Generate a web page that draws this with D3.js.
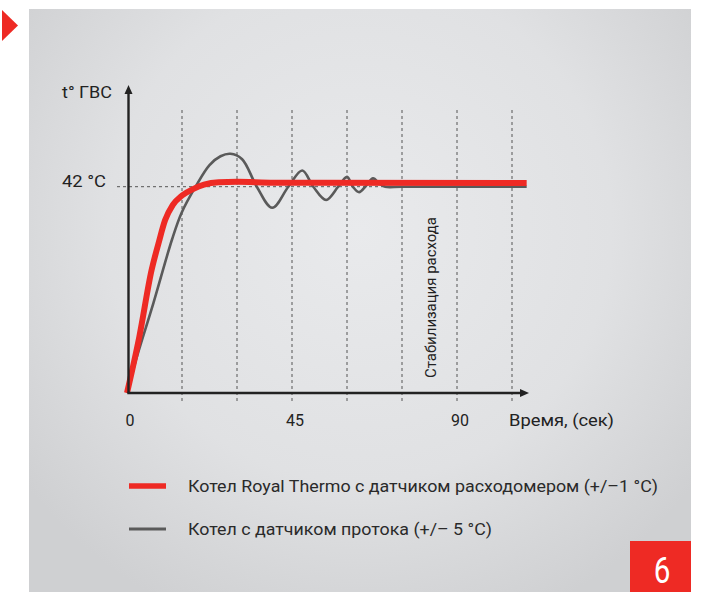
<!DOCTYPE html>
<html>
<head>
<meta charset="utf-8">
<script src="https://cdn.jsdelivr.net/npm/d3@7"></script>
<style>
  body { margin: 0; background: #fff; }
  svg { display: block; font-family: Roboto, "Open Sans", sans-serif; }
</style>
</head>
<body>
<svg id="chart" width="705" height="592"></svg>
<script>
// time (sec) of the dotted guide lines and the labelled ticks
var gridTimes = [15, 30, 45, 60, 75, 90, 105];
var tickTimes = [0, 45, 90];
var targetTemp = 42;

// Royal Thermo boiler with flow meter: time (sec) / temperature (°C)
var royalTime = [0, 3.35, 6.7, 8.6, 10.4, 12.5, 15, 18, 21, 25, 30, 40, 109];
var royalTemp = [0, 11.4, 25, 30.5, 35.2, 38.3, 40.2, 41.5, 42.4, 42.9, 43, 42.8, 42.75];

// boiler with a plain flow sensor: overshoots and swings before it settles
var flowTime = [0, 2.2, 7.2, 12.3, 14.9, 18.7, 22.5, 25.5, 28.2, 31.4, 35.4, 39.6, 44, 47.8, 50.8, 54.3, 57.6, 60, 61.6, 63.3, 65.2, 67.1, 68.9, 70.4, 75, 109];
var flowTemp = [0, 6.1, 18.3, 31.3, 36.7, 42, 46.4, 48.2, 48.7, 47.6, 42, 37.7, 42, 45.3, 42, 39.3, 42, 44.0, 42, 40.9, 42.2, 43.7, 42.6, 42, 42, 42];

var legendLabels = [
  "Котел Royal Thermo с датчиком расходомером (+/–1 °C)",
  "Котел с датчиком протока (+/– 5 °C)"
];
var legendColors = ["#ee2a24", "#5a5a5a"];

var svg = d3.select("#chart");
var red = "#ee2a24", ink = "#222";

// background panel with a soft light centre
var defs = svg.append("defs");
var grad = defs.append("radialGradient").attr("id", "bg")
  .attr("gradientUnits", "userSpaceOnUse")
  .attr("cx", 360).attr("cy", 230).attr("r", 420);
grad.append("stop").attr("offset", "0").attr("stop-color", "#e9eaec");
grad.append("stop").attr("offset", "0.6").attr("stop-color", "#e0e1e3");
grad.append("stop").attr("offset", "1").attr("stop-color", "#cfd0d2");

svg.append("rect").attr("x", 29).attr("y", 9).attr("width", 662).attr("height", 583)
  .attr("fill", "url(#bg)");

// red marker top-left
svg.append("path").attr("d", "M2,10 L18,25.5 L2,41 Z").attr("fill", red);

var x = d3.scaleLinear().domain([0, 105]).range([127, 512]);
var y = d3.scaleLinear().domain([0, 62.5]).range([393, 86]);
var axisX = x(0) + 1.5;

// dotted guides
svg.append("g").selectAll("line").data(gridTimes).join("line")
  .attr("x1", d => x(d)).attr("x2", d => x(d))
  .attr("y1", 110).attr("y2", 401)
  .attr("stroke", "#555").attr("stroke-width", 1).attr("stroke-dasharray", "3,3");

svg.append("line")
  .attr("x1", 117).attr("x2", x(105)).attr("y1", y(targetTemp)).attr("y2", y(targetTemp))
  .attr("stroke", "#555").attr("stroke-width", 1).attr("stroke-dasharray", "3,3");

// curves
var swingLine = d3.line().x(d => x(d[0])).y(d => y(d[1])).curve(d3.curveCatmullRom.alpha(0.5));
var smoothLine = d3.line().x(d => x(d[0])).y(d => y(d[1])).curve(d3.curveMonotoneX);

svg.append("path").datum(d3.zip(flowTime, flowTemp))
  .attr("d", swingLine).attr("fill", "none")
  .attr("stroke", legendColors[1]).attr("stroke-width", 2.6);

svg.append("path").datum(d3.zip(royalTime, royalTemp))
  .attr("d", smoothLine).attr("fill", "none")
  .attr("stroke", legendColors[0]).attr("stroke-width", 6)
  .attr("stroke-linecap", "butt");

// axes with arrows
svg.append("line").attr("x1", axisX).attr("x2", axisX).attr("y1", 393).attr("y2", 92)
  .attr("stroke", ink).attr("stroke-width", 2.4);
svg.append("path").attr("d", `M${axisX},85 L${axisX + 4},94 L${axisX - 4},94 Z`).attr("fill", ink);

svg.append("line").attr("x1", axisX - 1.2).attr("x2", 522).attr("y1", 393).attr("y2", 393)
  .attr("stroke", ink).attr("stroke-width", 2.4);
svg.append("path").attr("d", "M529,393 L520,389 L520,397 Z").attr("fill", ink);

// tick labels
svg.append("g").selectAll("text").data(tickTimes).join("text")
  .attr("x", d => x(d) + 3).attr("y", 426)
  .attr("text-anchor", "middle").attr("font-size", 16).attr("fill", ink)
  .text(d => d);

svg.append("text").attr("x", 509).attr("y", 426).attr("font-size", 16).attr("fill", ink)
  .attr("textLength", 105).attr("lengthAdjust", "spacingAndGlyphs")
  .text("Время, (сек)");

svg.append("text").attr("x", 62).attr("y", 98).attr("font-size", 16).attr("fill", ink)
  .attr("textLength", 50).attr("lengthAdjust", "spacingAndGlyphs")
  .text("t° ГВС");

svg.append("text").attr("x", 62).attr("y", 187).attr("font-size", 16).attr("fill", ink)
  .attr("textLength", 44).attr("lengthAdjust", "spacingAndGlyphs")
  .text(targetTemp + " °C");

svg.append("text")
  .attr("transform", "translate(436,378) rotate(-90)")
  .attr("font-size", 14).attr("fill", ink)
  .attr("textLength", 161).attr("lengthAdjust", "spacingAndGlyphs")
  .text("Стабилизация расхода");

// legend
var legend = svg.append("g").selectAll("g").data(legendLabels).join("g")
  .attr("transform", (d, i) => `translate(0,${486 + i * 43})`);
legend.append("line").attr("x1", 129).attr("x2", 166)
  .attr("stroke", (d, i) => legendColors[i])
  .attr("stroke-width", (d, i) => i === 0 ? 5.5 : 3);
legend.append("text").attr("x", 188).attr("y", 6)
  .attr("font-size", 17).attr("fill", "#2a2a2a")
  .attr("textLength", (d, i) => i === 0 ? 470 : 304).attr("lengthAdjust", "spacingAndGlyphs")
  .text(d => d);

// page number box
svg.append("rect").attr("x", 630).attr("y", 541).attr("width", 61).attr("height", 51).attr("fill", red);
svg.append("text").attr("transform", "translate(662,583) scale(0.8,1)")
  .attr("text-anchor", "middle").attr("font-size", 37).attr("fill", "#fff")
  .text("6");
</script>
</body>
</html>
